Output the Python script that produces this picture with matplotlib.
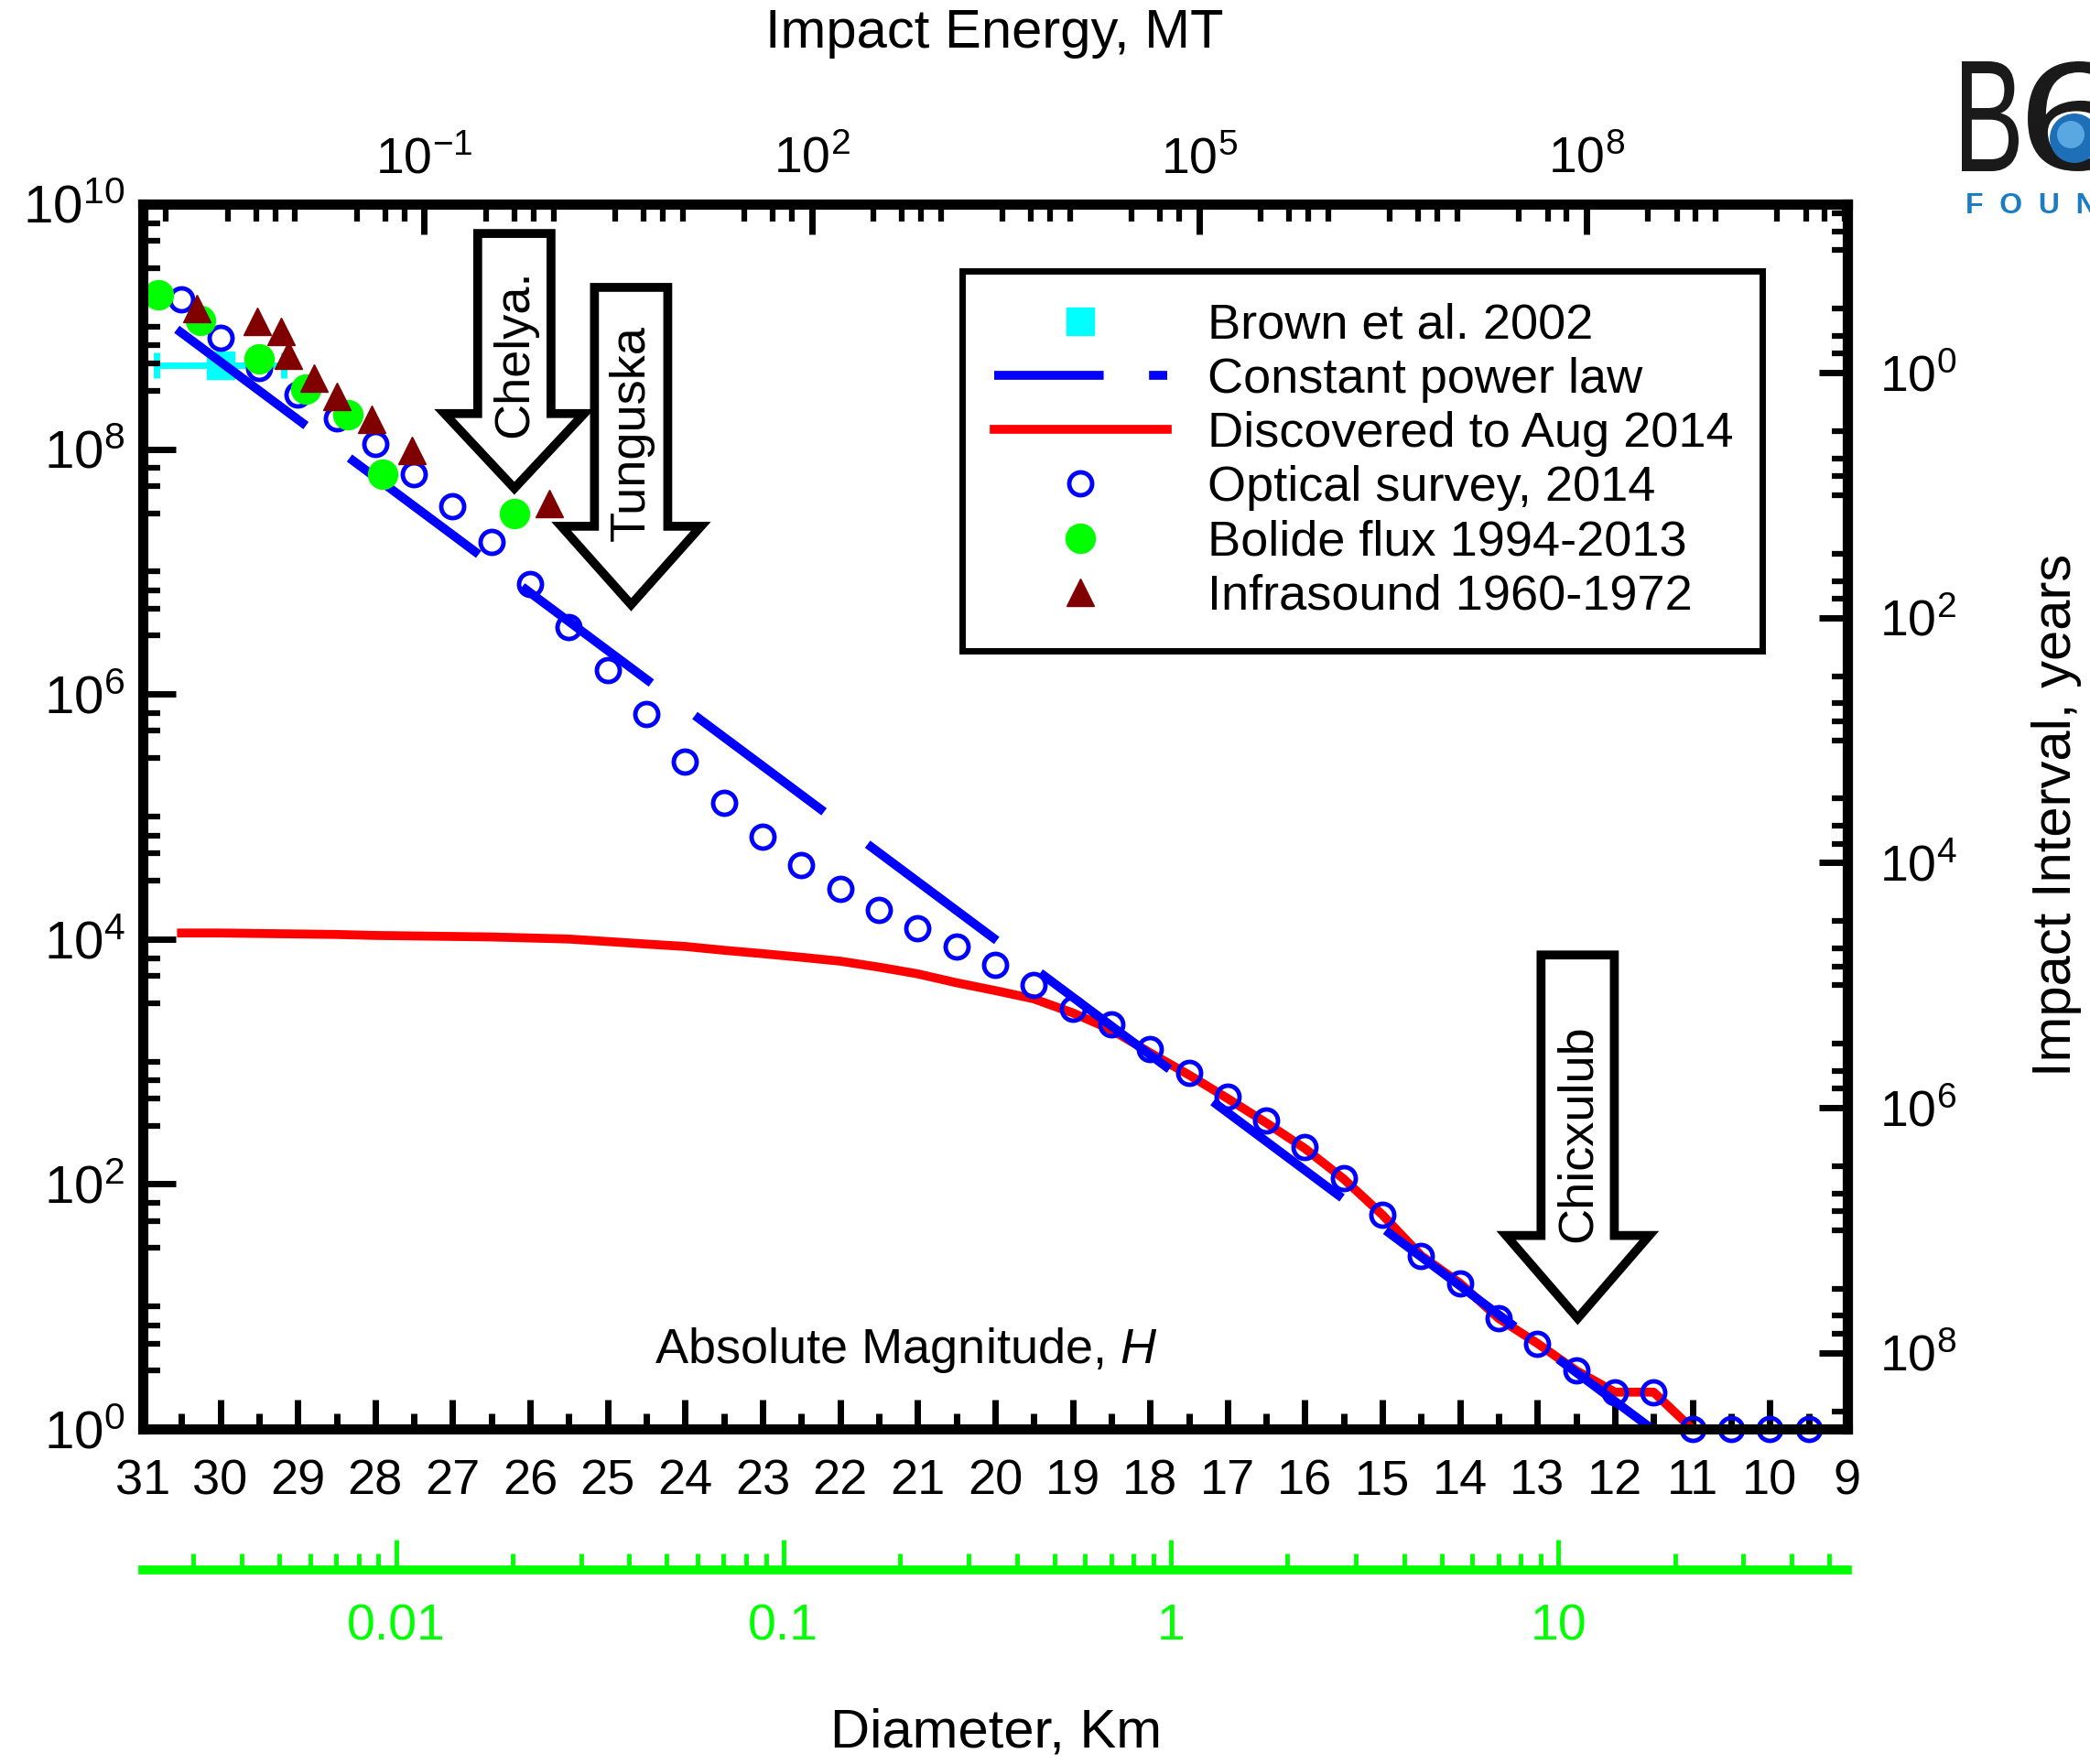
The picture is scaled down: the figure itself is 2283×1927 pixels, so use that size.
"""
NEA population vs absolute magnitude, with impact energy / interval / diameter axes
"""
import numpy as np
import matplotlib
matplotlib.use('Agg')  # no display
import matplotlib.pyplot as plt
from matplotlib.lines import Line2D
from matplotlib.patches import Polygon, Circle, PathPatch
from matplotlib.textpath import TextPath
from matplotlib.font_manager import FontProperties
from matplotlib.transforms import Affine2D
from matplotlib.ticker import FixedLocator, FuncFormatter, NullFormatter

plt.rcParams['font.family'] = ['Liberation Sans', 'DejaVu Sans']
plt.rcParams['mathtext.fontset'] = 'custom'
plt.rcParams['mathtext.rm'] = 'Liberation Sans'
plt.rcParams['mathtext.it'] = 'Liberation Sans:italic'
plt.rcParams['mathtext.bf'] = 'Liberation Sans:bold'

# ---- data ----
# cumulative number of objects brighter than H
survey_H = [30.5, 30.0, 29.5, 29.0, 28.5, 28.0, 27.5, 27.0, 26.5, 26.0, 25.5, 25.0,
            24.5, 24.0, 23.5, 23.0, 22.5, 22.0, 21.5, 21.0, 20.5, 20.0, 19.5, 19.0,
            18.5, 18.0, 17.5, 17.0, 16.5, 16.0, 15.5, 15.0, 14.5, 14.0, 13.5, 13.0,
            12.5, 12.0, 11.5, 11.0, 10.5, 10.0, 9.5]
survey_N = [1.66e9, 8.1e8, 4.6e8, 2.8e8, 1.78e8, 1.1e8, 6.2e7, 3.4e7, 1.74e7, 7.9e6, 3.55e6, 1.58e6,
            6.9e5, 2.8e5, 1.29e5, 6.9e4, 4.0e4, 2.57e4, 1.74e4, 1.23e4, 8.7e3, 6.2e3, 4.2e3, 2.7e3,
            2.0e3, 1.26e3, 813, 513, 331, 200, 112, 56, 26, 15.5, 8, 5,
            3, 2, 2, 1, 1, 1, 1]
discovered_N = [1.12e4, 1.12e4, 1.11e4, 1.10e4, 1.09e4, 1.07e4, 1.06e4, 1.05e4, 1.04e4, 1.02e4, 1.0e4, 9.55e3,
                9.1e3, 8.7e3, 8.1e3, 7.6e3, 7.1e3, 6.6e3, 5.9e3, 5.2e3, 4.4e3, 3.8e3, 3.25e3, 2.5e3,
                1.82e3, 1.18e3, 780, 500, 316, 195, 110, 56, 26, 15.5, 8, 5,
                3, 2, 2, 1, 1, 1, 1]

bolide_H = [30.8, 30.25, 29.5, 28.9, 28.35, 27.9, 26.2]
bolide_N = [1.82e9, 1.12e9, 5.5e8, 3.1e8, 1.9e8, 6.2e7, 3.0e7]

infrasound_H = [30.3, 29.52, 29.22, 29.12, 28.79, 28.49, 28.04, 27.53, 25.75]
infrasound_N = [1.41e9, 1.10e9, 9.1e8, 5.8e8, 3.8e8, 2.7e8, 1.74e8, 9.8e7, 3.6e7]

brown_H = [30.0]
brown_N = [4.8e8]
brown_Herr = [0.82]

powerlaw_H = [30.56, 11.52]
powerlaw_N = [9.5e8, 1.0]

H_ticks = list(range(9, 32))
H_minor = [h + 0.5 for h in range(9, 31)]

# axis conversions
ENERGY_ZERO = 15.42      # log10(E/MT) at H = 0
DIAM_H1KM = 17.73        # H of a 1 km body
INTERVAL_SCALE = 4.2e8   # years * number

BLUE = '#0000ff'
RED = '#ff0000'
GREEN = '#00ff00'
CYAN = '#00ffff'
MAROON = '#800000'


def h_to_energy(h):
    return 10 ** (ENERGY_ZERO - 0.6 * np.asarray(h, dtype=float))


def energy_to_h(e):
    with np.errstate(divide='ignore', invalid='ignore'):
        return (ENERGY_ZERO - np.log10(np.asarray(e, dtype=float))) / 0.6


def h_to_diam(h):
    return 10 ** ((DIAM_H1KM - np.asarray(h, dtype=float)) / 5.0)


def diam_to_h(d):
    with np.errstate(divide='ignore', invalid='ignore'):
        return DIAM_H1KM - 5.0 * np.log10(np.asarray(d, dtype=float))


def count_to_interval(n):
    with np.errstate(divide='ignore', invalid='ignore'):
        return INTERVAL_SCALE / np.asarray(n, dtype=float)


def log_minor(dec_lo, dec_hi, subs=(3, 5, 7), skip=()):
    # minor ticks: subs of every decade, plus the unlabelled decades themselves
    ticks = [s * 10.0 ** d for d in range(dec_lo, dec_hi + 1) for s in subs]
    ticks += [10.0 ** d for d in range(dec_lo, dec_hi + 1) if d not in skip]
    return sorted(ticks)


pow_fmt = FuncFormatter(lambda v, p: '$10^{%d}$' % int(round(np.log10(v))))


def block_arrow(ax, xc, top, base, tip, half_w, half_head, label, ytext):
    verts = [(xc - half_w, top), (xc + half_w, top), (xc + half_w, base),
             (xc + half_head, base), (xc, tip), (xc - half_head, base),
             (xc - half_w, base)]
    ax.add_patch(Polygon(verts, closed=True, transform=ax.transAxes,
                         facecolor='white', edgecolor='black', lw=7,
                         joinstyle='miter', zorder=7, clip_on=False))
    ax.text(xc, ytext, label, rotation=90, transform=ax.transAxes,
            ha='center', va='center', fontsize=39, zorder=8)


fig = plt.figure(figsize=(22.83, 19.27), dpi=100)
ax = fig.add_axes([0.0683, 0.1899, 0.8156, 0.6944])

# ---- data ----
ax.errorbar(brown_H, brown_N, xerr=brown_Herr, fmt='s', ms=22, color=CYAN,
            ecolor=CYAN, elinewidth=5, capsize=10, capthick=5, zorder=1)
ax.plot(survey_H, discovered_N, color=RED, lw=7, zorder=2, clip_on=False)
ax.plot(powerlaw_H, powerlaw_N, color=BLUE, lw=7, dashes=(18.1, 6.1), zorder=3)
ax.plot(survey_H, survey_N, ls='none', marker='o', ms=18, mfc='none', mec=BLUE,
        mew=3.5, zorder=4, clip_on=False)
ax.plot(bolide_H, bolide_N, ls='none', marker='o', ms=23, color=GREEN, zorder=5)
ax.plot(infrasound_H, infrasound_N, ls='none', marker='^', ms=22, color=MAROON, zorder=6)

# ---- main axes ----
ax.set_xlim(31, 9)
ax.set_yscale('log')
ax.set_ylim(1, 1e10)
for s in ax.spines.values():
    s.set_linewidth(8)
    s.set_zorder(9)

ax.xaxis.set_major_locator(FixedLocator(H_ticks))
ax.xaxis.set_minor_locator(FixedLocator(H_minor))
ax.xaxis.set_major_formatter(FuncFormatter(lambda v, p: '%d' % round(v)))
ax.yaxis.set_major_locator(FixedLocator([10.0 ** k for k in range(0, 11, 2)]))
ax.yaxis.set_minor_locator(FixedLocator(log_minor(0, 9, skip=range(0, 11, 2))))
ax.yaxis.set_major_formatter(pow_fmt)
ax.yaxis.set_minor_formatter(NullFormatter())
ax.tick_params(axis='x', which='major', direction='in', length=23, width=5,
               labelsize=39, pad=23, top=False)
ax.tick_params(axis='x', which='minor', direction='in', length=12.5, width=5, top=False)
ax.tick_params(axis='y', which='major', direction='in', length=26, width=5,
               labelsize=42, pad=14, right=False)
ax.tick_params(axis='y', which='minor', direction='in', length=14, width=4.5, right=False)

ax.text(0.448, 0.064, 'Absolute Magnitude, $\\mathit{H}$', transform=ax.transAxes,
        ha='center', va='center', fontsize=39)

# top: impact energy
top = ax.secondary_xaxis('top', functions=(h_to_energy, energy_to_h))
top.xaxis.set_major_locator(FixedLocator([1e-1, 1e2, 1e5, 1e8]))
top.xaxis.set_minor_locator(FixedLocator(log_minor(-4, 10, skip=(-1, 2, 5, 8))))
top.xaxis.set_major_formatter(pow_fmt)
top.xaxis.set_minor_formatter(NullFormatter())
top.tick_params(which='major', direction='in', length=24, width=5, labelsize=40, pad=16)
top.tick_params(which='minor', direction='in', length=14, width=4.5)
for s in top.spines.values():
    s.set_linewidth(8)

# right: impact interval
right = ax.secondary_yaxis('right', functions=(count_to_interval, count_to_interval))
right.yaxis.set_major_locator(FixedLocator([1e0, 1e2, 1e4, 1e6, 1e8]))
right.yaxis.set_minor_locator(FixedLocator(log_minor(-2, 8, skip=(0, 2, 4, 6, 8))))
right.yaxis.set_major_formatter(pow_fmt)
right.yaxis.set_minor_formatter(NullFormatter())
right.tick_params(which='major', direction='in', length=22, width=5, labelsize=40, pad=25)
right.tick_params(which='minor', direction='in', length=12, width=4.5)
for s in right.spines.values():
    s.set_linewidth(8)

# bottom (green): diameter
diam = ax.secondary_xaxis(-0.115, functions=(h_to_diam, diam_to_h))
diam.xaxis.set_major_locator(FixedLocator([0.01, 0.1, 1, 10]))
diam.xaxis.set_minor_locator(FixedLocator(log_minor(-3, 1, subs=(2, 3, 4, 5, 6, 7, 8, 9), skip=range(-3, 2))))
diam.xaxis.set_major_formatter(FuncFormatter(lambda v, p: '%g' % v))
diam.xaxis.set_minor_formatter(NullFormatter())
diam.spines['top'].set_visible(False)
diam.spines['bottom'].set_color(GREEN)
diam.spines['bottom'].set_linewidth(7)
diam.tick_params(which='major', direction='in', length=24, width=3.5, colors=GREEN,
                 labelsize=40, pad=26)
diam.tick_params(which='minor', direction='in', length=13, width=3.5, colors=GREEN)

# ---- annotations ----
block_arrow(ax, 0.218, 0.976, 0.829, 0.768, 0.0215, 0.041, 'Chelya.', 0.878)
block_arrow(ax, 0.2865, 0.932, 0.737, 0.673, 0.0215, 0.041, 'Tunguska', 0.813)
block_arrow(ax, 0.8418, 0.387, 0.158, 0.0904, 0.0215, 0.042, 'Chicxulub', 0.2415)

# ---- legend ----
handles = [
    Line2D([], [], ls='none', marker='s', ms=22, color=CYAN),
    Line2D([], [], color=BLUE, lw=7, dashes=(12.3, 5.1)),
    Line2D([], [], color=RED, lw=7),
    Line2D([], [], ls='none', marker='o', ms=18, mfc='none', mec=BLUE, mew=3.5),
    Line2D([], [], ls='none', marker='o', ms=23, color=GREEN),
    Line2D([], [], ls='none', marker='^', ms=22, color=MAROON),
]
labels = ['Brown et al. 2002', 'Constant power law', 'Discovered to Aug 2014',
          'Optical survey, 2014', 'Bolide flux 1994-2013', 'Infrasound 1960-1972']
leg = ax.legend(handles, labels, loc='upper left',
                bbox_to_anchor=(0.4807, 0.63, 0.4693, 0.3154), mode='expand',
                borderaxespad=0, fontsize=39, fancybox=False, framealpha=1,
                borderpad=0.64, labelspacing=0.17, handlelength=3.5,
                handletextpad=0.8, numpoints=1)
leg.get_frame().set_edgecolor('black')
leg.get_frame().set_linewidth(5)
leg.set_zorder(10)

# ---- outer titles ----
fig.text(0.4757, 0.981, 'Impact Energy, MT', ha='center', va='center', fontsize=43)
fig.text(0.4765, 0.0176, 'Diameter, Km', ha='center', va='center', fontsize=43)
fig.text(0.984, 0.538, 'Impact Interval, years', rotation=90, ha='center',
         va='center', fontsize=43)

# ---- B612 logo (cut by the right edge, as in the original) ----
fp = FontProperties(family='Liberation Sans')


def glyph(ch, x0, y0, w, h, color='#1a1a1a'):
    tp = TextPath((0, 0), ch, size=1, prop=fp)
    ext = tp.get_extents()
    tr = (Affine2D().translate(-ext.x0, -ext.y0)
          .scale(w / ext.width, h / ext.height).translate(x0, y0)
          + fig.dpi_scale_trans)
    fig.patches.append(PathPatch(tp, transform=tr, facecolor=color, lw=0))


glyph('B', 21.43, 17.40, 0.62, 1.20)
glyph('6', 22.15, 17.40, 1.05, 1.20)
fig.patches.append(Circle((22.66, 17.76), 0.27, transform=fig.dpi_scale_trans,
                          facecolor='#1d6fb8', lw=0))
fig.patches.append(Circle((22.62, 17.80), 0.15, transform=fig.dpi_scale_trans,
                          facecolor='#5aa8e2', lw=0))
fig.text(2147 / 2283, (1927 - 233) / 1927, 'F  O  U  N  D  A  T  I  O  N', color='#1a7dc4',
         fontsize=23, fontweight='bold', va='baseline', ha='left')

fig.savefig('out.png', dpi=100)
plt.close(fig)
